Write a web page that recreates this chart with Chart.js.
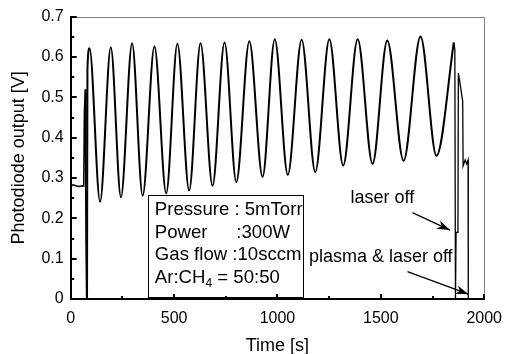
<!DOCTYPE html>
<html><head><meta charset="utf-8">
<script src="https://cdn.jsdelivr.net/npm/chart.js@4/dist/chart.umd.min.js"></script>
<style>html,body{margin:0;padding:0;background:#fff;}canvas{display:block;}</style>
</head><body>
<canvas id="c" width="512" height="354"></canvas>
<script>
// ---- data ----
const startTimes = [0, 12, 25, 40, 55, 63, 66, 70, 74, 77, 79];
const startVolts = [0.28, 0.283, 0.281, 0.279, 0.281, 0.28, 0.46, 0.52, 0.14, 0.0, 0.0];

const cycleTimes = [79, 81, 91, 142, 194, 243, 297, 348, 405, 462, 516, 573, 628, 686, 744, 801, 864, 928, 987, 1050, 1117, 1183, 1251, 1318, 1388, 1460, 1531, 1610, 1692, 1769, 1853];
const cycleVolts = [0.0, 0.57, 0.622, 0.241, 0.624, 0.252, 0.634, 0.256, 0.626, 0.262, 0.633, 0.269, 0.634, 0.281, 0.636, 0.290, 0.639, 0.303, 0.644, 0.308, 0.643, 0.315, 0.644, 0.331, 0.644, 0.335, 0.641, 0.343, 0.651, 0.355, 0.636];

const offTimes = [1853, 1858, 1861, 1863, 1864, 1873, 1875, 1880, 1896, 1898, 1908, 1915, 1922, 1923, 1930];
const offVolts = [0.636, 0.62, 0.0, 0.0, 0.165, 0.165, 0.56, 0.545, 0.49, 0.33, 0.345, 0.335, 0.345, 0.0, 0.0];

const xTickLabels = [0, 500, 1000, 1500, 2000];
const yTickLabels = [0, 0.1, 0.2, 0.3, 0.4, 0.5, 0.6, 0.7];

const conditionRows = [
  ["Pressure : 5mTorr", ""],
  ["Power", ":300W"],
  ["Gas flow :10sccm", ""],
  ["Ar:CH", "4", " = 50:50"]
];
const noteLaserOff = "laser off";
const notePlasmaOff = "plasma & laser off";

// ---- helpers ----
function pts(ts, vs) { return ts.map((t, i) => ({x: t, y: vs[i]})); }
const TXT = "'Liberation Sans', Arial, sans-serif";
const tickFont = {family: TXT, size: 16};
const textFont = {family: TXT, size: 18};

function arrow(ctx, x1, y1, x2, y2) {
  ctx.beginPath(); ctx.moveTo(x1, y1); ctx.lineTo(x2, y2); ctx.stroke();
  const a = Math.atan2(y2 - y1, x2 - x1), L = 13, W = 4.5;
  const bx = x2 - L * Math.cos(a), by = y2 - L * Math.sin(a);
  const nx = -Math.sin(a), ny = Math.cos(a);
  const mx = x2 - 0.7 * L * Math.cos(a), my = y2 - 0.7 * L * Math.sin(a);
  ctx.beginPath();
  ctx.moveTo(x2, y2);
  ctx.lineTo(bx + nx * W, by + ny * W);
  ctx.lineTo(mx, my);
  ctx.lineTo(bx - nx * W, by - ny * W);
  ctx.closePath(); ctx.fill();
}

const decor = {
  id: 'decor',
  beforeDraw(chart) {
    const c = chart.ctx; c.save(); c.fillStyle = '#fff'; c.fillRect(0, 0, chart.width, chart.height); c.restore();
  },
  afterDatasetsDraw(chart) {
    const {ctx, scales: {x, y}} = chart;
    ctx.save();
    // condition box (anchored in data units)
    const bl = x.getPixelForValue(372), br = x.getPixelForValue(1124);
    const bt = y.getPixelForValue(0.258), bb = y.getPixelForValue(0.004);
    ctx.fillStyle = '#fff';
    ctx.fillRect(bl, bt, br - bl, bb - bt);
    ctx.strokeStyle = '#000'; ctx.lineWidth = 1;
    ctx.strokeRect(Math.round(bl) + 0.5, Math.round(bt) + 0.5, Math.round(br - bl), Math.round(bb - bt));
    ctx.fillStyle = '#000';
    const big = `18.6px ${TXT}`;
    ctx.font = big;
    ctx.textBaseline = 'middle'; ctx.textAlign = 'left';
    const tx = x.getPixelForValue(407);
    const rowV = [0.221, 0.1646, 0.109, 0.052];
    conditionRows.forEach((row, i) => {
      const py = y.getPixelForValue(rowV[i]);
      if (row.length === 3) {
        ctx.font = big;
        ctx.fillText(row[0], tx, py);
        let w = ctx.measureText(row[0]).width;
        ctx.font = `12px ${TXT}`;
        ctx.fillText(row[1], tx + w, py + 6);
        const w2 = ctx.measureText(row[1]).width;
        ctx.font = big;
        ctx.fillText(row[2], tx + w + w2, py);
      } else {
        ctx.fillText(row[0], tx, py);
        if (row[1]) ctx.fillText(row[1], x.getPixelForValue(801), py);
      }
    });
    // annotations
    ctx.font = `18px ${TXT}`;
    ctx.fillText(noteLaserOff, x.getPixelForValue(1353), y.getPixelForValue(0.25));
    ctx.fillText(notePlasmaOff, x.getPixelForValue(1152), y.getPixelForValue(0.1035));
    ctx.lineWidth = 1.3;
    arrow(ctx, x.getPixelForValue(1653), y.getPixelForValue(0.214), x.getPixelForValue(1834), y.getPixelForValue(0.171));
    arrow(ctx, x.getPixelForValue(1629), y.getPixelForValue(0.068), x.getPixelForValue(1924), y.getPixelForValue(0.012));
    ctx.restore();
  },
  afterDraw(chart) {
    const {ctx, chartArea: a, scales: {x, y}} = chart;
    ctx.save();
    ctx.strokeStyle = '#808080'; ctx.lineWidth = 1;
    ctx.beginPath();
    ctx.moveTo(a.left, Math.round(a.top) + 0.5);
    ctx.lineTo(Math.round(a.right) + 0.5, Math.round(a.top) + 0.5);
    ctx.lineTo(Math.round(a.right) + 0.5, a.bottom);
    ctx.stroke();
    ctx.strokeStyle = '#000'; ctx.lineWidth = 2;
    const yMaj = yTickLabels, yMin = [];
    for (let i = 0; i < yMaj.length - 1; i++) yMin.push((yMaj[i] + yMaj[i + 1]) / 2);
    const xMaj = xTickLabels, xMin = [];
    for (let i = 0; i < xMaj.length - 1; i++) xMin.push((xMaj[i] + xMaj[i + 1]) / 2);
    const L = a.left, B = a.bottom;
    const line = (x1, y1, x2, y2) => { ctx.beginPath(); ctx.moveTo(x1, y1); ctx.lineTo(x2, y2); ctx.stroke(); };
    yMaj.forEach(v => { const p = Math.round(y.getPixelForValue(v)); line(L, p, L + 6, p); });
    yMin.forEach(v => { const p = Math.round(y.getPixelForValue(v)); line(L, p, L + 3.5, p); });
    xMaj.forEach(v => { const p = Math.round(x.getPixelForValue(v)); line(p, B, p, B - 5); });
    xMin.forEach(v => { const p = Math.round(x.getPixelForValue(v)); line(p, B, p, B - 3); });
    ctx.restore();
  }
};

new Chart(document.getElementById('c'), {
  type: 'line',
  data: {
    datasets: [
      {data: pts(startTimes, startVolts), borderColor: '#000', borderWidth: 1.5, tension: 0, pointRadius: 0},
      {data: pts(cycleTimes, cycleVolts), borderColor: '#000', borderWidth: 2, cubicInterpolationMode: 'monotone', pointRadius: 0},
      {data: pts(offTimes, offVolts), borderColor: '#000', borderWidth: 1.3, tension: 0, pointRadius: 0}
    ]
  },
  options: {
    responsive: false, animation: false, devicePixelRatio: 1,
    layout: {padding: {left: 0, right: 18.7, top: 16.7, bottom: 0}},
    plugins: {legend: {display: false}, tooltip: {enabled: false}},
    scales: {
      x: {
        type: 'linear', min: 0, max: 2000,
        afterBuildTicks: s => { s.ticks = xTickLabels.map(v => ({value: v})); },
        ticks: {font: tickFont, color: '#000', padding: 10, maxRotation: 0, autoSkip: false, callback: v => String(v)},
        grid: {display: false, drawTicks: false},
        border: {color: '#000', width: 2},
        title: {display: true, text: 'Time [s]', font: textFont, color: '#000', padding: {top: 0, bottom: -3}},
        afterFit: s => { s.height = 55; }
      },
      y: {
        type: 'linear', min: 0, max: 0.7,
        afterBuildTicks: s => { s.ticks = yTickLabels.map(v => ({value: v})); },
        ticks: {font: tickFont, color: '#000', padding: 7, autoSkip: false, callback: v => String(Math.round(v * 10) / 10)},
        grid: {display: false, drawTicks: false},
        border: {color: '#000', width: 2},
        title: {display: true, text: 'Photodiode output [V]', font: textFont, color: '#000', padding: {top: 8, bottom: 0}},
        afterFit: s => { s.width = 70.7; }
      }
    }
  },
  plugins: [decor]
});
</script>
</body></html>
